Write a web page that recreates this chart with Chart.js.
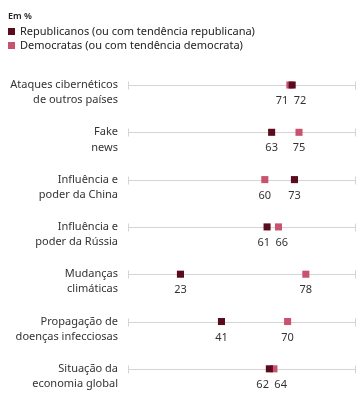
<!DOCTYPE html>
<html>
<head>
<meta charset="utf-8">
<script src="https://cdn.jsdelivr.net/npm/chart.js@4"></script>
<style>
    body { margin: 0; background: #fff; font-family: 'Noto Sans', sans-serif; }
    #wrap { position: relative; width: 361px; height: 394px; }
    #legend { position: absolute; left: 8px; top: 9px; color: #222; }
    #legend .unit { font-size: 9px; font-weight: 600; margin-bottom: 2px; }
    #legend .item { font-size: 11px; line-height: 14px; }
    #legend .sw { display: inline-block; width: 7px; height: 7px; margin-right: 5px; vertical-align: 0; }
    canvas { position: absolute; left: 0; top: 0; }
</style>
</head>
<body>
<div id="wrap">
    <canvas id="dotChart" width="361" height="394"></canvas>
    <div id="legend">
        <div class="unit">Em %</div>
        <div class="item"><span class="sw" style="background:#5c0b1e"></span>Republicanos (ou com tendência republicana)</div>
        <div class="item"><span class="sw" style="background:#c9536f"></span>Democratas (ou com tendência democrata)</div>
    </div>
</div>
<script>
const categories = [
    ['Ataques cibernéticos', 'de outros países'],
    ['Fake', 'news'],
    ['Influência e', 'poder da China'],
    ['Influência e', 'poder da Rússia'],
    ['Mudanças', 'climáticas'],
    ['Propagação de', 'doenças infecciosas'],
    ['Situação da', 'economia global']
];
const republicanos = [72, 63, 73, 61, 23, 41, 62];
const democratas = [71, 75, 60, 66, 78, 70, 64];

const colRep = '#5c0b1e';
const colDem = '#c9536f';

// row lines with end ticks, drawn behind the points
const rowLines = {
    id: 'rowLines',
    beforeDatasetsDraw(chart) {
        const { ctx, scales: { x, y } } = chart;
        ctx.save();
        ctx.strokeStyle = '#d4d4d4';
        ctx.lineWidth = 1;
        categories.forEach((c, i) => {
            const py = Math.round(y.getPixelForValue(i)) + 0.5;
            const x0 = Math.round(x.getPixelForValue(0)) + 0.5;
            const x1 = Math.round(x.getPixelForValue(100)) - 0.5;
            ctx.beginPath();
            ctx.moveTo(x0, py); ctx.lineTo(x1, py);
            ctx.moveTo(x0, py - 4); ctx.lineTo(x0, py + 4);
            ctx.moveTo(x1, py - 4); ctx.lineTo(x1, py + 4);
            ctx.stroke();
        });
        ctx.restore();
    }
};

// value labels under each row, pushed apart when they collide
const valueLabels = {
    id: 'valueLabels',
    afterDatasetsDraw(chart) {
        const { ctx, scales: { x, y } } = chart;
        ctx.save();
        ctx.font = "11px 'Noto Sans', sans-serif";
        ctx.fillStyle = '#333';
        ctx.textAlign = 'center';
        ctx.textBaseline = 'middle';
        const minGap = 18;
        categories.forEach((c, i) => {
            const py = y.getPixelForValue(i) + 16;
            const vals = [republicanos[i], democratas[i]].sort((a, b) => a - b);
            let xa = x.getPixelForValue(vals[0]);
            let xb = x.getPixelForValue(vals[1]);
            if (xb - xa < minGap) {
                const mid = (xa + xb) / 2;
                xa = mid - minGap / 2;
                xb = mid + minGap / 2;
            }
            ctx.fillText(String(vals[0]), xa, py);
            ctx.fillText(String(vals[1]), xb, py);
        });
        ctx.restore();
    }
};

new Chart(document.getElementById('dotChart'), {
    type: 'scatter',
    data: {
        datasets: [{
            label: 'Republicanos',
            data: republicanos.map((v, i) => ({ x: v, y: i })),
            backgroundColor: colRep,
            borderColor: colRep,
            pointStyle: 'rect',
            pointRadius: 5,
            borderWidth: 0
        }, {
            label: 'Democratas',
            data: democratas.map((v, i) => ({ x: v, y: i })),
            backgroundColor: colDem,
            borderColor: colDem,
            pointStyle: 'rect',
            pointRadius: 5,
            borderWidth: 0
        }]
    },
    options: {
        responsive: false,
        animation: false,
        clip: false,
        layout: { padding: { top: 85, bottom: 23, right: 5, left: 0 } },
        plugins: { legend: { display: false }, tooltip: { enabled: false } },
        scales: {
            x: { type: 'linear', min: 0, max: 100, display: false },
            y: {
                type: 'category',
                labels: categories,
                offset: false,
                grid: { display: false, drawTicks: false },
                border: { display: false },
                afterFit(scale) { scale.width = 128; },
                ticks: {
                    color: '#333',
                    padding: 10,
                    labelOffset: 7.5,
                    font: { family: "'Noto Sans', sans-serif", size: 11, lineHeight: 1.38 }
                }
            }
        }
    },
    plugins: [rowLines, valueLabels]
});
</script>
</body>
</html>
